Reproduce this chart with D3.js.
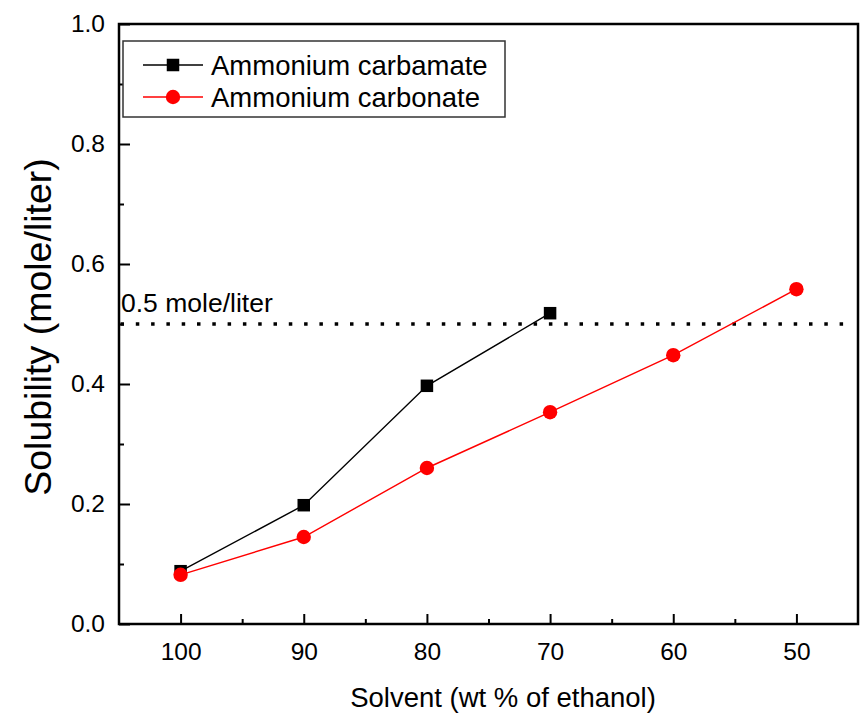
<!DOCTYPE html>
<html>
<head>
<meta charset="utf-8">
<script src="https://cdn.jsdelivr.net/npm/d3@7"></script>
<style>
  html, body { margin: 0; padding: 0; background: #fff; }
  svg { display: block; font-family: "Liberation Sans", Arial, sans-serif; }
</style>
</head>
<body>
<svg id="chart" width="868" height="721"></svg>
<script>
// ---- data ----
const carbamateX = [100, 90, 80, 70];
const carbamate = [0.088, 0.198, 0.397, 0.518];
const carbonateX = [100, 90, 80, 70, 60, 50];
const carbonate = [0.082, 0.145, 0.26, 0.353, 0.448, 0.558];
const xTicks = [100, 90, 80, 70, 60, 50];
const xMinor = [95, 85, 75, 65, 55];
const yTicks = [0, 0.2, 0.4, 0.6, 0.8, 1.0];
const yMinor = [0.1, 0.3, 0.5, 0.7, 0.9];
const refValue = 0.5;
const refLabel = "0.5 mole/liter";
const seriesNames = ["Ammonium carbamate", "Ammonium carbonate"];

// ---- layout ----
const L = 119, R = 858, T = 24, B = 624;
const svg = d3.select("#chart");
svg.append("rect").attr("width", 868).attr("height", 721).attr("fill", "#fff");

const x = d3.scaleLinear().domain([105, 45]).range([L, R]);
const y = d3.scaleLinear().domain([0, 1]).range([B, T]);

// axes
const xAxis = d3.axisBottom(x).tickValues(xTicks).tickFormat(d3.format("d"))
  .tickSizeInner(-10).tickSizeOuter(0).tickPadding(14);
const gx = svg.append("g").attr("transform", `translate(0,${B})`).call(xAxis);
gx.select(".domain").remove();
gx.selectAll("line").attr("stroke", "#000").attr("stroke-width", 2);
gx.selectAll("text").attr("font-size", 24.5).attr("fill", "#000")
  .attr("font-family", "Liberation Sans, Arial, sans-serif").attr("dy", "0.88em");

const xAxisMinor = d3.axisBottom(x).tickValues(xMinor).tickFormat("")
  .tickSizeInner(-5).tickSizeOuter(0);
const gxm = svg.append("g").attr("transform", `translate(0,${B})`).call(xAxisMinor);
gxm.select(".domain").remove();
gxm.selectAll("line").attr("stroke", "#000").attr("stroke-width", 2);

const yAxis = d3.axisLeft(y).tickValues(yTicks).tickFormat(d3.format(".1f"))
  .tickSizeInner(-11).tickSizeOuter(0).tickPadding(14);
const gy = svg.append("g").attr("transform", `translate(${L},0)`).call(yAxis);
gy.select(".domain").remove();
gy.selectAll("line").attr("stroke", "#000").attr("stroke-width", 2);
gy.selectAll("text").attr("font-size", 24.5).attr("fill", "#000")
  .attr("font-family", "Liberation Sans, Arial, sans-serif");

const yAxisMinor = d3.axisLeft(y).tickValues(yMinor).tickFormat("")
  .tickSizeInner(-5).tickSizeOuter(0);
const gym = svg.append("g").attr("transform", `translate(${L},0)`).call(yAxisMinor);
gym.select(".domain").remove();
gym.selectAll("line").attr("stroke", "#000").attr("stroke-width", 2);

// frame
svg.append("rect").attr("x", L).attr("y", T).attr("width", R - L).attr("height", B - T)
  .attr("fill", "none").attr("stroke", "#000").attr("stroke-width", 2.5);

// reference line
svg.append("line").attr("x1", L + 1.5).attr("x2", R - 4)
  .attr("y1", y(refValue)).attr("y2", y(refValue))
  .attr("stroke", "#000").attr("stroke-width", 3.5).attr("stroke-dasharray", "3.5,11.8");
svg.append("text").attr("x", 121).attr("y", y(refValue) - 12)
  .attr("font-size", 26.5).attr("fill", "#000").text(refLabel);

// series
const line = d3.line().x(d => x(d[0])).y(d => y(d[1]));
const carbamateData = carbamateX.map((v, i) => [v, carbamate[i]]);
const carbonateData = carbonateX.map((v, i) => [v, carbonate[i]]);

svg.append("path").datum(carbamateData).attr("d", line)
  .attr("fill", "none").attr("stroke", "#000").attr("stroke-width", 1.4);
svg.append("path").datum(carbonateData).attr("d", line)
  .attr("fill", "none").attr("stroke", "#ff0000").attr("stroke-width", 1.4);

const sq = 12.5;
svg.selectAll(".sq").data(carbamateData).enter().append("rect")
  .attr("x", d => x(d[0]) - sq / 2).attr("y", d => y(d[1]) - sq / 2)
  .attr("width", sq).attr("height", sq).attr("fill", "#000");
svg.selectAll(".ci").data(carbonateData).enter().append("circle")
  .attr("cx", d => x(d[0])).attr("cy", d => y(d[1])).attr("r", 7.2)
  .attr("fill", "#ff0000");

// legend
svg.append("rect").attr("x", 123).attr("y", 41).attr("width", 382).attr("height", 76)
  .attr("fill", "#fff").attr("stroke", "#333").attr("stroke-width", 1.5);
const legY = [65, 97];
const legColors = ["#000", "#ff0000"];
legY.forEach((ly, i) => {
  svg.append("line").attr("x1", 143).attr("x2", 203).attr("y1", ly).attr("y2", ly)
    .attr("stroke", legColors[i]).attr("stroke-width", 1.4);
  if (i === 0) {
    svg.append("rect").attr("x", 173 - sq / 2).attr("y", ly - sq / 2)
      .attr("width", sq).attr("height", sq).attr("fill", "#000");
  } else {
    svg.append("circle").attr("cx", 173).attr("cy", ly).attr("r", 7.2).attr("fill", "#ff0000");
  }
  svg.append("text").attr("x", 211).attr("y", ly + 9.5)
    .attr("font-size", 27.5).attr("fill", "#000").text(seriesNames[i]);
});

// axis titles
svg.append("text").attr("x", 503).attr("y", 707).attr("text-anchor", "middle")
  .attr("font-size", 27.5).attr("fill", "#000").text("Solvent (wt % of ethanol)");
svg.append("text").attr("transform", `translate(51,${327}) rotate(-90)`)
  .attr("text-anchor", "middle").attr("font-size", 37.5).attr("fill", "#000")
  .text("Solubility (mole/liter)");
</script>
</body>
</html>
